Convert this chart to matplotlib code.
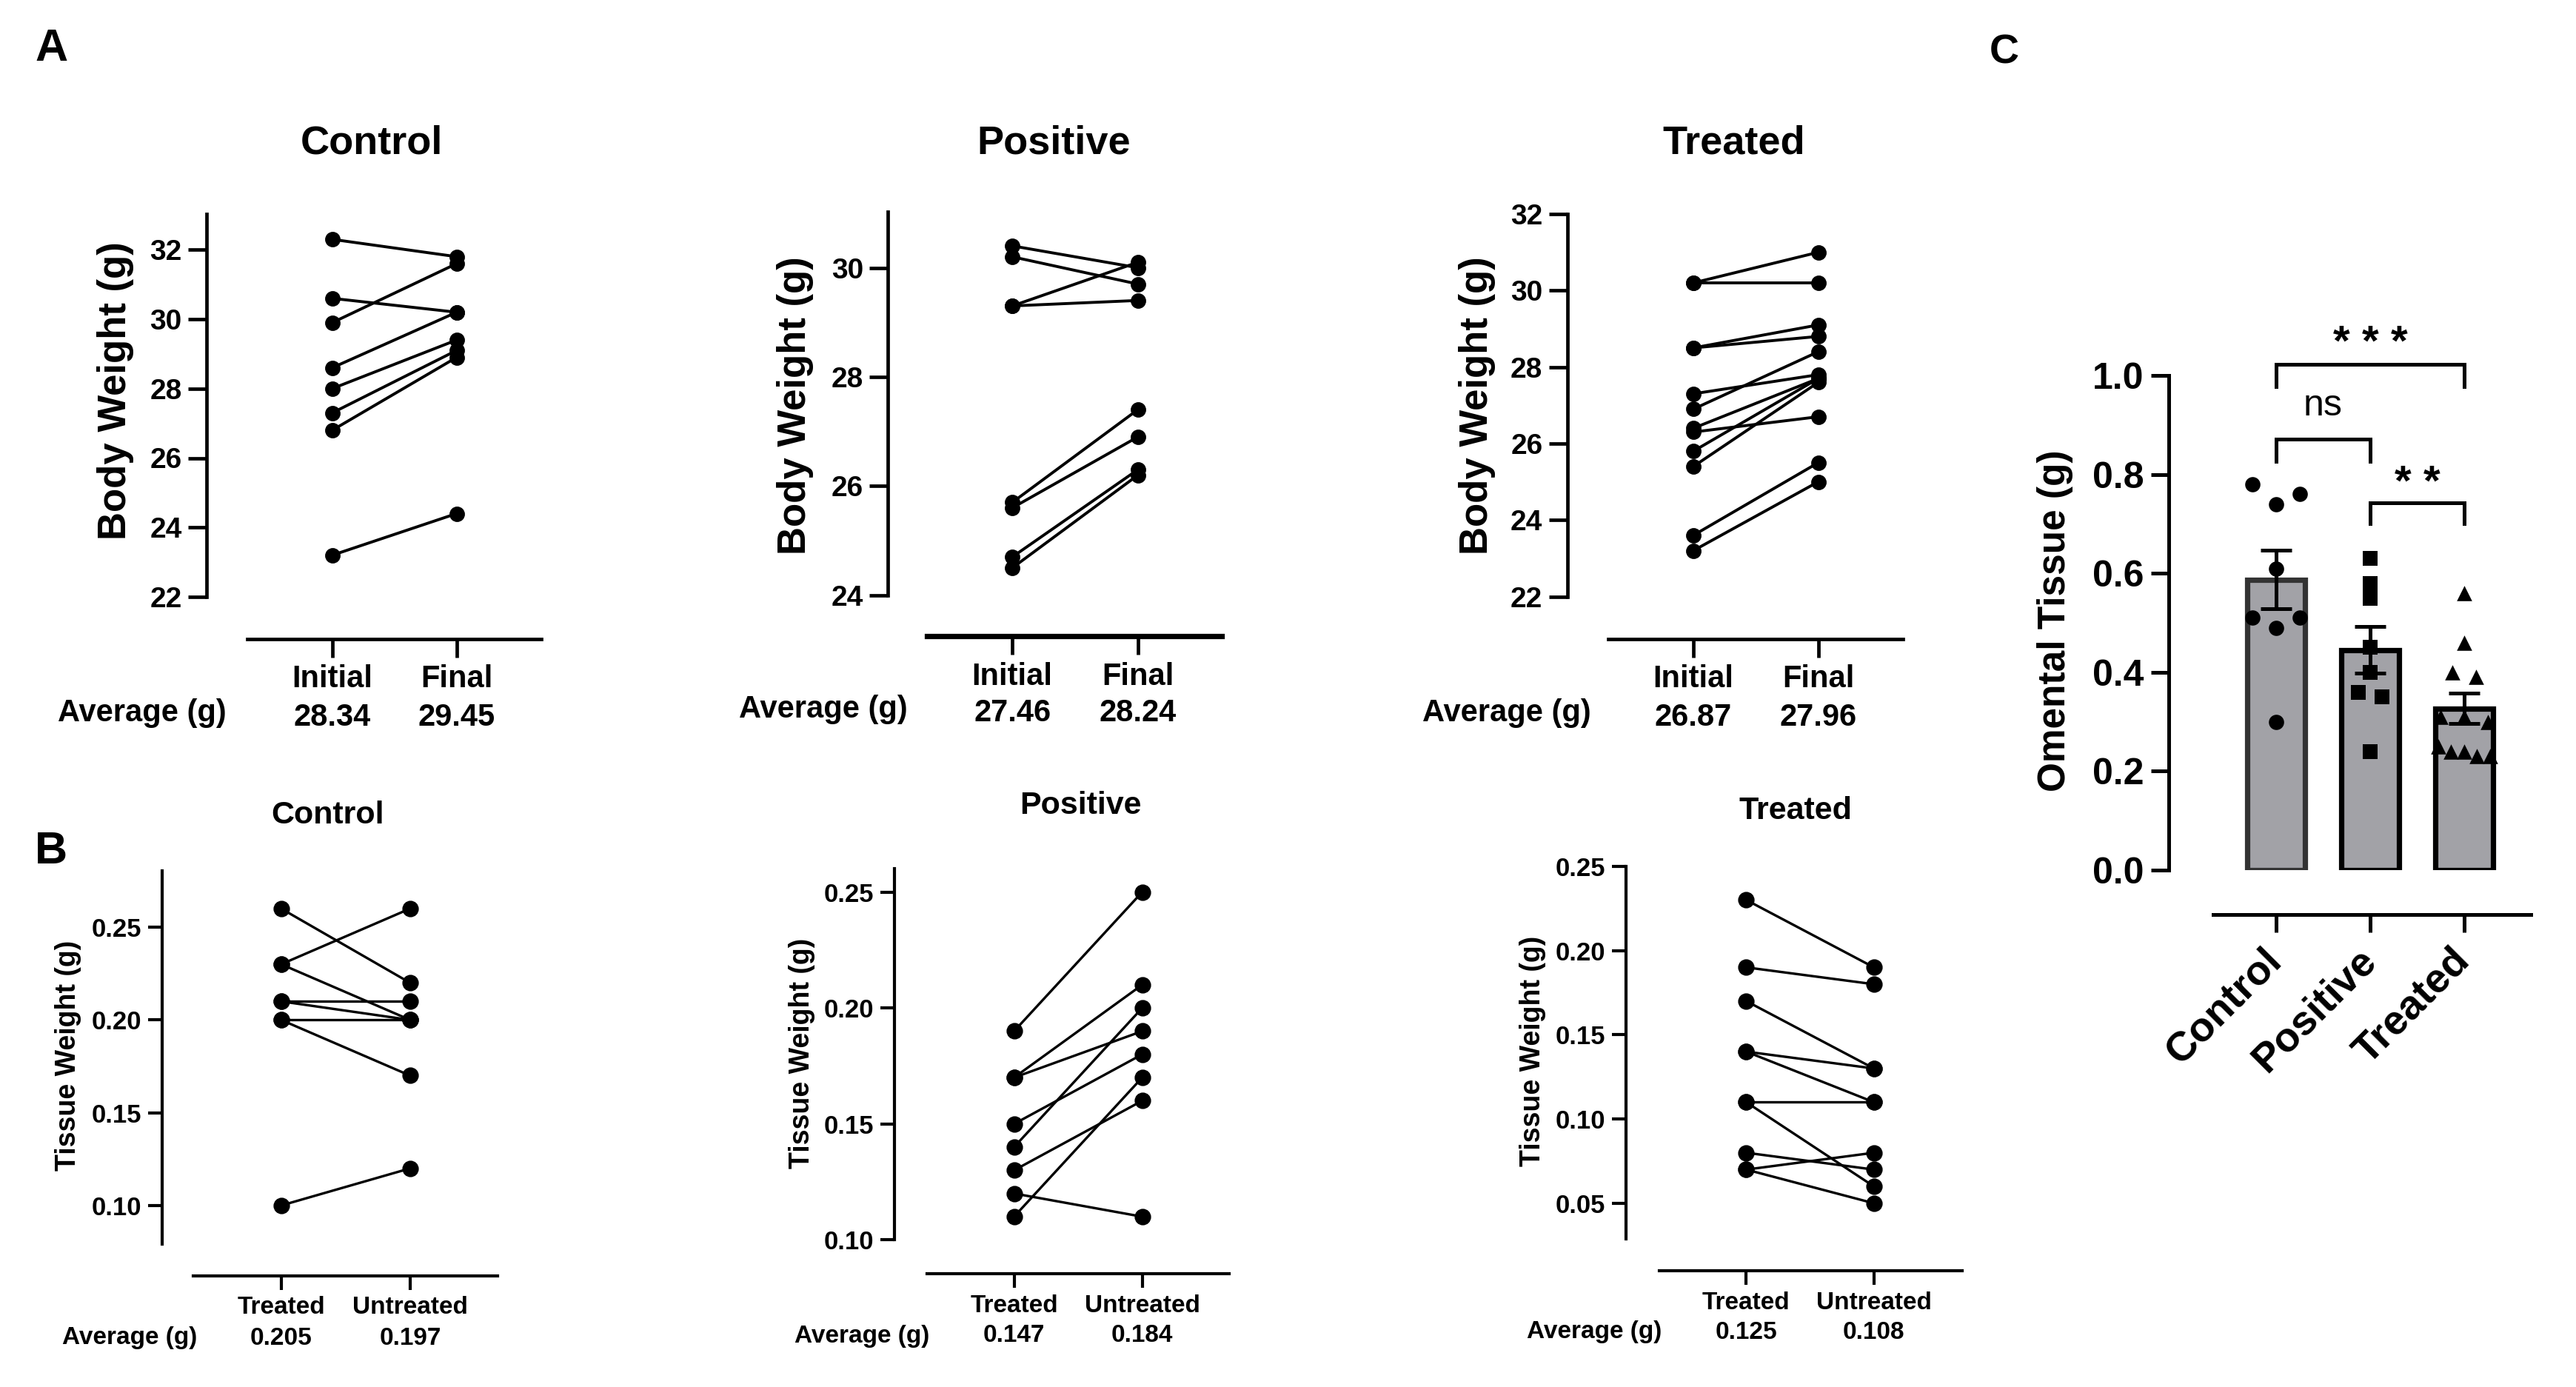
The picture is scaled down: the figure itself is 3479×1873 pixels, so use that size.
import numpy as np
import matplotlib
matplotlib.use('Agg')
import matplotlib.pyplot as plt
from matplotlib.transforms import blended_transform_factory

plt.rcParams['font.family'] = ['Liberation Sans', 'DejaVu Sans']
plt.rcParams['font.weight'] = 'bold'

# ---- data ----
# A: body weight (g), initial vs final
a_ctrl_initial = [32.3, 30.6, 29.9, 28.6, 28.0, 27.3, 26.8, 23.2]
a_ctrl_final = [31.8, 30.2, 31.6, 30.2, 29.4, 29.1, 28.9, 24.4]
a_pos_initial = [30.4, 30.2, 29.3, 29.3, 25.7, 25.6, 24.7, 24.5]
a_pos_final = [30.0, 29.7, 30.1, 29.4, 27.4, 26.9, 26.3, 26.2]
a_trt_initial = [30.2, 30.2, 28.5, 28.5, 27.3, 26.9, 26.4, 26.3, 25.8, 25.4, 23.6, 23.2]
a_trt_final = [31.0, 30.2, 29.1, 28.8, 27.8, 28.4, 27.7, 26.7, 27.7, 27.6, 25.5, 25.0]
a_cats = ['Initial', 'Final']
a_avg = [['28.34', '29.45'], ['27.46', '28.24'], ['26.87', '27.96']]

# B: tissue weight (g), treated vs untreated side
b_ctrl_treated = [0.26, 0.23, 0.23, 0.21, 0.21, 0.20, 0.20, 0.10]
b_ctrl_untreated = [0.22, 0.26, 0.20, 0.21, 0.20, 0.20, 0.17, 0.12]
b_pos_treated = [0.19, 0.17, 0.17, 0.15, 0.14, 0.13, 0.12, 0.11]
b_pos_untreated = [0.25, 0.21, 0.19, 0.18, 0.20, 0.16, 0.11, 0.17]
b_trt_treated = [0.23, 0.19, 0.17, 0.14, 0.14, 0.11, 0.11, 0.08, 0.07, 0.07]
b_trt_untreated = [0.19, 0.18, 0.13, 0.13, 0.11, 0.11, 0.06, 0.07, 0.08, 0.05]
b_cats = ['Treated', 'Untreated']
b_avg = [['0.205', '0.197'], ['0.147', '0.184'], ['0.125', '0.108']]

group_names = ['Control', 'Positive', 'Treated']

# C: omental tissue (g)
c_control = [0.78, 0.74, 0.76, 0.61, 0.51, 0.49, 0.51, 0.30]
c_positive = [0.63, 0.58, 0.55, 0.45, 0.40, 0.36, 0.35, 0.24]
c_treated = [0.56, 0.46, 0.40, 0.39, 0.31, 0.31, 0.30, 0.25, 0.24, 0.24, 0.23, 0.23]
c_sig = ['* * *', 'ns', '* *']

# ---- figure helpers (pixel layout of the reference) ----
W, H = 3480, 1873
DPI = 200
fig = plt.figure(figsize=(W / DPI, H / DPI), dpi=DPI)


def pt(p):
    return p * 72.0 / DPI


def make_ax(x0, x1, ytop, ybot):
    return fig.add_axes([x0 / W, 1 - ybot / H, (x1 - x0) / W, (ybot - ytop) / H])


def ftext(x, y, s, **kw):
    fig.text(x / W, 1 - y / H, s, **kw)


def paired(ax, before, after, xlim, ylim, yticks, yfmt, out_px, bounds,
           spw, tlen, tfs, ms, lw):
    for a, b in zip(before, after):
        ax.plot([0, 1], [a, b], color='black', lw=lw, marker='o', ms=ms,
                clip_on=False, solid_capstyle='round')
    for s in ['top', 'right']:
        ax.spines[s].set_visible(False)
    ax.spines['left'].set_linewidth(spw)
    ax.spines['bottom'].set_linewidth(spw)
    ax.spines['bottom'].set_position(('outward', pt(out_px)))
    ax.spines['bottom'].set_bounds(*bounds)
    ax.set_xlim(*xlim)
    ax.set_ylim(*ylim)
    ax.set_yticks(yticks)
    ax.set_yticklabels([yfmt % v for v in yticks])
    ax.set_xticks([0, 1])
    ax.set_xticklabels([])
    ax.tick_params(axis='both', length=tlen, width=spw, labelsize=tfs, pad=3)
    ax.patch.set_visible(False)


# ---- panel A ----
a_sets = [(a_ctrl_initial, a_ctrl_final), (a_pos_initial, a_pos_final),
          (a_trt_initial, a_trt_final)]
a_boxes = [(279, 731, 288.5, 806), (1199.3, 1650.4, 285.6, 803.7), (2116.6, 2570.5, 289, 805.5)]
a_xlims = [(-1.01, 1.68), (-0.99, 1.67), (-1.01, 1.68)]
a_ylims = [(22, 33.04), (24, 31.03), (22, 32)]
a_yticks = [np.arange(22, 33, 2), np.arange(24, 31, 2), np.arange(22, 33, 2)]
a_out = [56.6, 54.9, 57.1]
a_title_x = [502, 1423, 2342]
a_ylab = [(156, 528), (1074, 548), (1995, 548)]
a_avg_x = [192, 1112, 2035]
a_lab_y = [(917, 969, 963), (914, 963, 958), (917, 969, 963)]

for i in range(3):
    ax = make_ax(*a_boxes[i])
    paired(ax, a_sets[i][0], a_sets[i][1], a_xlims[i], a_ylims[i], a_yticks[i], '%d',
           a_out[i], (-0.68, a_xlims[i][1]), 1.7, 9, 14, 6.5, 1.4)
    if i == 1:
        ax.spines['bottom'].set_linewidth(2.6)
    ftext(a_title_x[i], 193, group_names[i], ha='center', va='center', fontsize=19.5)
    ftext(a_ylab[i][0], a_ylab[i][1], 'Body Weight (g)', rotation=90,
          ha='center', va='center', fontsize=19)
    tr = blended_transform_factory(ax.transData, fig.transFigure)
    for j in range(2):
        ax.text(j, 1 - a_lab_y[i][0] / H, a_cats[j], transform=tr, ha='center',
                va='center', fontsize=15)
        ax.text(j, 1 - a_lab_y[i][1] / H, a_avg[i][j], transform=tr, ha='center',
                va='center', fontsize=15)
    ftext(a_avg_x[i], a_lab_y[i][2], 'Average (g)', ha='center', va='center', fontsize=15)

# ---- panel B ----
b_sets = [(b_ctrl_treated, b_ctrl_untreated), (b_pos_treated, b_pos_untreated),
          (b_trt_treated, b_trt_untreated)]
b_boxes = [(219.3, 672.3, 1175.6, 1679.5), (1207.9, 1660.3, 1173, 1674.3),
           (2196.2, 2649.9, 1169.8, 1672.7)]
b_xlims = [(-0.921, 1.68), (-0.934, 1.68), (-0.94, 1.69)]
b_ylims = [(0.0794, 0.2805), (0.10, 0.2601), (0.029, 0.25)]
b_yticks = [[0.10, 0.15, 0.20, 0.25], [0.10, 0.15, 0.20, 0.25],
            [0.05, 0.10, 0.15, 0.20, 0.25]]
b_out = [43.3, 46, 43.3]
b_title = [(443, 1101), (1459, 1088), (2425, 1095)]
b_ylab = [(92, 1425), (1083, 1422), (2070, 1419)]
b_avg_x = [175, 1164, 2153]
b_lab_y = [(1766, 1807), (1763, 1804), (1759, 1799)]

for i in range(3):
    ax = make_ax(*b_boxes[i])
    paired(ax, b_sets[i][0], b_sets[i][1], b_xlims[i], b_ylims[i], b_yticks[i], '%.2f',
           b_out[i], (-0.68, b_xlims[i][1]), 1.5, 7, 12.5, 7, 1.2)
    ftext(b_title[i][0], b_title[i][1], group_names[i], ha='center', va='center', fontsize=15.5)
    ftext(b_ylab[i][0], b_ylab[i][1], 'Tissue Weight (g)', rotation=90,
          ha='center', va='center', fontsize=13.5)
    tr = blended_transform_factory(ax.transData, fig.transFigure)
    for j in range(2):
        ax.text(j, 1 - b_lab_y[i][0] / H, b_cats[j], transform=tr, ha='center',
                va='center', fontsize=12)
        ax.text(j, 1 - b_lab_y[i][1] / H, b_avg[i][j], transform=tr, ha='center',
                va='center', fontsize=12)
    ftext(b_avg_x[i], b_lab_y[i][1], 'Average (g)', ha='center', va='center', fontsize=12)

# ---- panel C ----
axc = make_ax(2929, 3418, 507, 1175)
c_data = [c_control, c_positive, c_treated]
xpos = np.arange(3)
means = [np.mean(v) for v in c_data]
sems = [np.std(v, ddof=1) / np.sqrt(len(v)) for v in c_data]
axc.bar(xpos, means, width=0.62, color='#a2a2a7',
        edgecolor=['#333333', 'black', 'black'], linewidth=2.6, zorder=1)
axc.errorbar(xpos, means, yerr=sems, fmt='none', ecolor='black', elinewidth=1.8,
             capsize=7.5, capthick=1.8, zorder=3)


def swarm(vals, tol=0.025, maxspan=0.55):
    # spread near-equal values sideways, keeping entry order inside a cluster
    order = np.argsort(vals, kind='stable')
    offs = np.zeros(len(vals))
    groups, cur = [], [order[0]]
    for k in order[1:]:
        if vals[k] - vals[cur[-1]] <= tol:
            cur.append(k)
        else:
            groups.append(cur)
            cur = [k]
    groups.append(cur)
    for g in groups:
        n = len(g)
        if n > 1:
            s = min(0.25, maxspan / (n - 1))
            for r, k in enumerate(sorted(g)):
                offs[k] = (r - (n - 1) / 2) * s
    return offs


for i, (vals, mk) in enumerate(zip(c_data, ['o', 's', '^'])):
    v = np.array(vals)
    axc.scatter(i + swarm(v), v, marker=mk, s=55, color='black', zorder=4,
                linewidths=0, clip_on=False)

for s in ['top', 'right']:
    axc.spines[s].set_visible(False)
for s in ['left', 'bottom']:
    axc.spines[s].set_linewidth(1.8)
axc.spines['bottom'].set_position(('outward', pt(60)))
axc.spines['bottom'].set_bounds(-0.67, 2.71)
axc.set_xlim(-1.142, 2.71)
axc.set_ylim(0, 1.0)
axc.set_yticks([0, 0.2, 0.4, 0.6, 0.8, 1.0])
axc.set_yticklabels(['%.1f' % v for v in [0, 0.2, 0.4, 0.6, 0.8, 1.0]])
axc.tick_params(axis='both', length=8.6, width=1.8, labelsize=18)
axc.set_xticks(xpos)
axc.set_xticklabels(group_names, rotation=45, ha='right', va='center',
                    rotation_mode='anchor', fontsize=20)
axc.tick_params(axis='x', pad=11)
axc.patch.set_visible(False)
ftext(2776, 838, 'Omental Tissue (g)', rotation=90, ha='center', va='center', fontsize=18.5)

brackets = [(0, 2, 1.023, 0.978, 1.083), (0, 1, 0.871, 0.827, 0.939), (1, 2, 0.743, 0.701, 0.80)]
for (x0, x1, top, leg, ty), lab in zip(brackets, c_sig):
    axc.plot([x0, x0, x1, x1], [leg, top, top, leg], color='black', lw=1.8,
             clip_on=False, solid_joinstyle='miter')
    if lab == 'ns':
        axc.text((x0 + x1) / 2, ty, lab, ha='center', va='center', fontsize=18,
                 fontweight='normal')
    else:
        axc.text((x0 + x1) / 2, ty - 0.02, lab, ha='center', va='center', fontsize=21)

# panel letters
ftext(70, 66, 'A', ha='center', va='center', fontsize=22)
ftext(69, 1150, 'B', ha='center', va='center', fontsize=22)
ftext(2707, 72, 'C', ha='center', va='center', fontsize=20)

fig.savefig('out.png', dpi=DPI)
